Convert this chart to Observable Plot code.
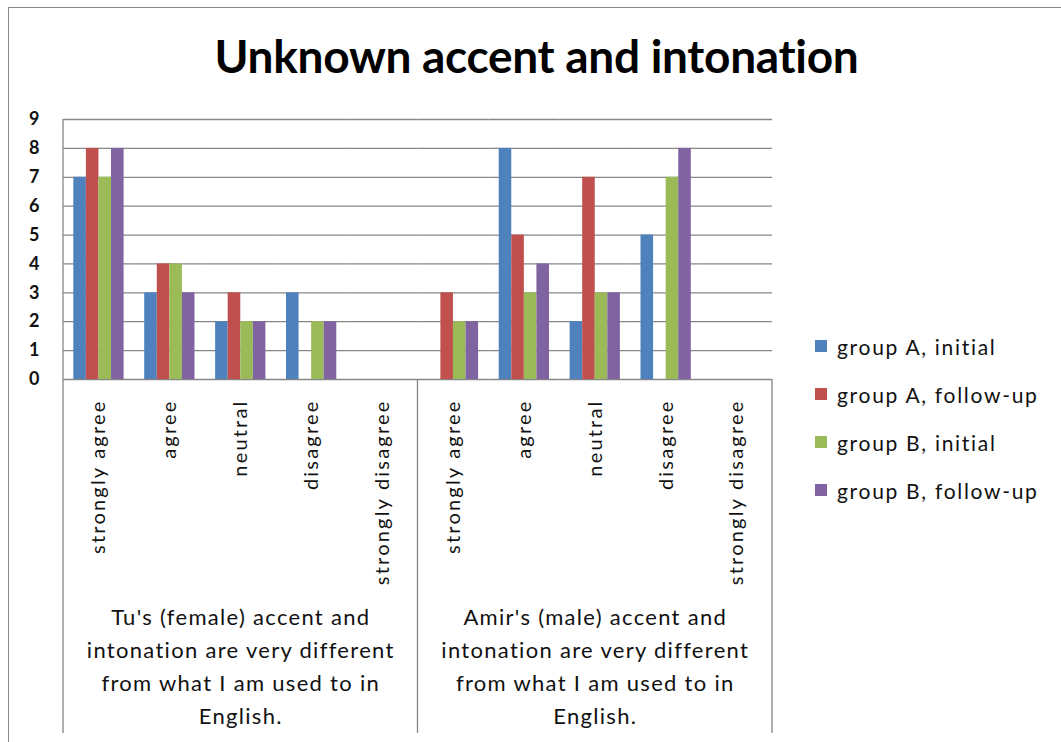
<!DOCTYPE html>
<html>
<head>
<meta charset="utf-8">
<script src="https://cdn.jsdelivr.net/npm/d3@7"></script>
<script src="https://cdn.jsdelivr.net/npm/@observablehq/plot@0.6"></script>
<style>
  html, body { margin: 0; padding: 0; background: #fff; overflow: hidden; }
  #figure { position: relative; width: 1061px; height: 742px; font-family: Lato, "Open Sans", sans-serif; color: #000; }
  #border { position: absolute; left: 8px; top: 7px; width: 1200px; height: 900px; border: 1px solid #888; box-sizing: border-box; }
  #title { position: absolute; left: 0; width: 1073px; top: 33px; line-height: 1; text-align: center; font-size: 46px; font-weight: 700; letter-spacing: -0.3px; }
  #chart { position: absolute; left: 0; top: 0; }
  #legend { position: absolute; left: 815px; top: 322px; font-size: 21px; letter-spacing: 1.7px; color: #111; }
  .item { display: flex; align-items: center; height: 48px; white-space: nowrap; }
  .swatch { width: 12px; height: 12px; margin-right: 10px; }
</style>
</head>
<body>
<div id="figure">
  <div id="border"></div>
  <div id="chart"></div>
  <div id="title"></div>
  <div id="legend"></div>
</div>
<script>
const titleText = "Unknown accent and intonation";

// Likert responses, repeated under each statement
const responses = ["strongly agree", "agree", "neutral", "disagree", "strongly disagree"];
const statements = ["Tu", "Amir"];
const statementLabels = [
  "Tu's (female) accent and\nintonation are very different\nfrom what I am used to in\nEnglish.",
  "Amir's (male) accent and\nintonation are very different\nfrom what I am used to in\nEnglish."
];

const seriesNames = ["group A, initial", "group A, follow-up", "group B, initial", "group B, follow-up"];
const seriesColors = ["#4F81BD", "#C0504D", "#9BBB59", "#8064A2"];

// counts: Tu's five responses, then Amir's five responses
const groupAInitial  = [7, 3, 2, 3, 0,   0, 8, 2, 5, 0];
const groupAFollowUp = [8, 4, 3, 0, 0,   3, 5, 7, 0, 0];
const groupBInitial  = [7, 4, 2, 2, 0,   2, 3, 3, 7, 0];
const groupBFollowUp = [8, 3, 2, 2, 0,   2, 4, 3, 8, 0];

const yTicks = [0, 1, 2, 3, 4, 5, 6, 7, 8, 9];

// one category key per (statement, response)
const categories = statements.flatMap(s => responses.map(r => ({statement: s, response: r, key: s + "|" + r})));
const seriesValues = [groupAInitial, groupAFollowUp, groupBInitial, groupBFollowUp];
const rows = seriesValues.flatMap((vals, si) =>
  vals.map((v, ci) => ({key: categories[ci].key, series: seriesNames[si], value: v})));
const middleOfEach = statements.map((s, i) => ({key: s + "|" + responses[2], label: statementLabels[i]}));

const W = 1061, H = 742;
const gridColor = "#868686";

const chart = Plot.plot({
  width: W,
  height: H,
  marginTop: 119,
  marginBottom: 363,
  marginLeft: 63,
  marginRight: 289,
  style: {fontFamily: "Lato, 'Open Sans', sans-serif", background: "transparent", overflow: "visible"},
  fx: {domain: categories.map(d => d.key), padding: 0, round: false, axis: null},
  x: {domain: seriesNames, paddingInner: 0, paddingOuter: 0.82, round: false, axis: null},
  y: {domain: [0, 9]},
  color: {domain: seriesNames, range: seriesColors},
  marks: [
    Plot.ruleY(yTicks, {stroke: gridColor, strokeWidth: 1.3}),
    Plot.barY(rows, {fx: "key", x: "series", y: "value", fill: "series"}),
    Plot.axisY(yTicks, {tickSize: 0, tickPadding: 24, fontSize: 18, fontWeight: 700, fill: "#111", label: null}),
    Plot.text(categories, {
      fx: "key", text: "response", frameAnchor: "bottom", dy: 20,
      rotate: -90, textAnchor: "end", lineAnchor: "middle",
      fontSize: 20, fill: "#111"
    }),
    Plot.text(middleOfEach, {
      fx: "key", text: "label", frameAnchor: "bottom", dy: 222,
      lineAnchor: "top", lineHeight: 1.5, fontSize: 22, fill: "#111"
    })
  ]
});
document.getElementById("chart").append(chart);

const svg = d3.select(chart.tagName.toLowerCase() === "svg" ? chart : chart.querySelector("svg"));

// wider tracking for the response and statement labels
const textGroups = svg.selectAll('g[aria-label="text"]').nodes();
d3.select(textGroups[0]).selectAll("text").style("letter-spacing", "2.2px");
d3.select(textGroups[1]).selectAll("text").style("letter-spacing", "1.3px");

// category box lines below the value axis, placed with the facet scale
const fx = chart.scale("fx");
const yScale = chart.scale("y");
const keys = categories.map(d => d.key);
const xLeft = fx.apply(keys[0]);
const xMid = fx.apply(keys[responses.length]);
const xRight = fx.apply(keys[keys.length - 1]) + fx.bandwidth;
const yTop = yScale.apply(9), yZero = yScale.apply(0), yBottom = H - 9;
const seg = [
  [xLeft, yTop, xLeft, yBottom],
  [xMid, yZero, xMid, yBottom],
  [xRight, yZero, xRight, yBottom]
];
svg.append("g").selectAll("line").data(seg).join("line")
  .attr("x1", d => d[0]).attr("y1", d => d[1]).attr("x2", d => d[2]).attr("y2", d => d[3])
  .attr("stroke", gridColor).attr("stroke-width", 1.3);

document.getElementById("title").textContent = titleText;

const legend = d3.select("#legend");
seriesNames.forEach((name, i) => {
  const item = legend.append("div").attr("class", "item");
  item.append("div").attr("class", "swatch").style("background", seriesColors[i]);
  item.append("span").text(name);
});
</script>
</body>
</html>
